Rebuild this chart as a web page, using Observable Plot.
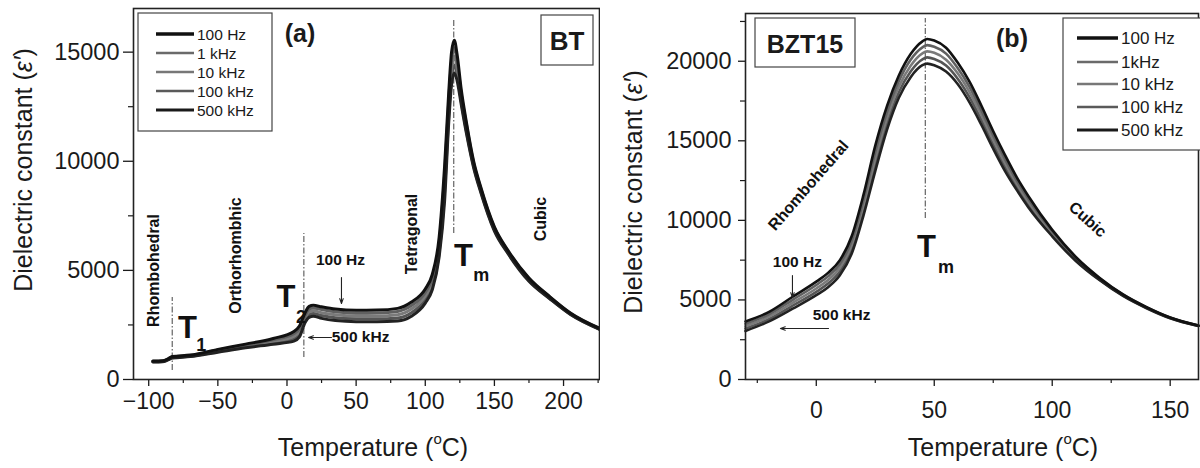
<!DOCTYPE html>
<html><head><meta charset="utf-8">
<script src="https://cdn.jsdelivr.net/npm/d3@7"></script>
<script src="https://cdn.jsdelivr.net/npm/@observablehq/plot@0.6"></script>
<style>
body{margin:0;background:#fff;}
#wrap{position:relative;width:1200px;height:468px;overflow:hidden;background:#fff;}
#wrap svg{position:absolute;top:0;}
</style></head><body><div id="wrap"></div>
<script>
const FONT = '"Liberation Sans", Arial, Helvetica, sans-serif';

// ---------- Panel (a): BT ----------
const freqsA = ["100 Hz", "1 kHz", "10 kHz", "100 kHz", "500 kHz"];
const tempBT = [-97,-90,-86,-83,-70,-50,-30,-10,5,9,13,16,19,25,35,50,65,80,90,100,105,110,114,117,119,121,123,126,130,135,140,150,160,175,190,205,226];
const bt100Hz = [850,860,950,1050,1120,1380,1620,1880,2200,2450,3050,3350,3400,3330,3230,3170,3180,3260,3550,4150,4800,6500,9800,13200,15000,15550,14900,13300,11700,10000,8850,7000,5900,4650,3800,3050,2350];
const bt1kHz = [840,850,940,1030,1100,1350,1580,1820,2100,2330,2920,3230,3280,3210,3100,3040,3050,3120,3390,3990,4620,6230,9400,12800,14600,15200,14600,13100,11600,9920,8790,6950,5860,4620,3780,3030,2340];
const bt10kHz = [825,835,925,1015,1085,1315,1535,1750,1980,2200,2830,3100,3150,3060,2970,2910,2910,2970,3230,3830,4450,6050,9000,12500,14250,14800,14300,12950,11450,9850,8720,6900,5820,4580,3750,3010,2320];
const bt100kHz = [810,820,910,995,1065,1280,1490,1680,1860,2070,2710,2970,3020,2930,2830,2780,2780,2820,3060,3660,4270,5800,8600,12150,13900,14400,14000,12750,11300,9770,8660,6850,5790,4540,3720,2990,2310];
const bt500kHz = [800,810,900,980,1050,1250,1450,1620,1760,1950,2600,2850,2900,2800,2700,2650,2650,2680,2900,3500,4100,5600,8200,11800,13500,14050,13700,12600,11200,9700,8600,6800,5750,4500,3700,2980,2300];
const xTicksA = [-100,-50,0,50,100,150,200];
const xMinorA = [-75,-25,25,75,125,175,225];
const yTicksA = [0,5000,10000,15000];
const yMinorA = [2500,7500,12500];

// ---------- Panel (b): BZT15 ----------
const freqsB = ["100 Hz", "1kHz", "10 kHz", "100 kHz", "500 kHz"];
const tempBZT = [-30,-20,-10,0,5,10,15,20,25,30,35,40,45,47,50,55,60,65,70,75,80,85,90,100,110,120,130,140,150,162];
const bzt100Hz = [3650,4250,5200,6150,6700,7500,9000,11600,14700,17200,19100,20450,21250,21400,21300,20850,19900,18700,17200,15600,14100,12700,11500,9400,7700,6400,5350,4550,3900,3400];
const bzt1kHz = [3500,4100,5010,5940,6480,7260,8720,11270,14300,16820,18750,20090,20870,21010,20910,20480,19560,18380,16900,15330,13850,12500,11330,9300,7640,6360,5330,4530,3890,3390];
const bzt10kHz = [3350,3950,4820,5720,6250,7020,8450,10950,13900,16450,18400,19720,20500,20620,20530,20100,19230,18050,16600,15050,13600,12300,11150,9200,7580,6330,5300,4520,3880,3380];
const bzt100kHz = [3200,3800,4640,5510,6030,6790,8170,10620,13500,16070,18050,19360,20120,20240,20140,19730,18890,17730,16300,14780,13350,12100,10980,9100,7510,6290,5280,4500,3860,3370];
const bzt500kHz = [3050,3650,4450,5300,5800,6550,7900,10300,13100,15700,17700,19000,19750,19850,19750,19350,18550,17400,16000,14500,13100,11900,10800,9000,7450,6250,5250,4480,3850,3360];
const xTicksB = [0,50,100,150];
const xMinorB = [-25,25,75,125];
const yTicksB = [0,5000,10000,15000,20000];
const yMinorB = [2500,7500,12500,17500,22500];

const lineColors = ["#111111", "#606060", "#7a7a7a", "#555555", "#222222"];
const legendColors = ["#111111", "#6a6a6a", "#777777", "#5a5a5a", "#1a1a1a"];
const legendWidths = [3.5, 2.5, 2.5, 2.5, 3];

function toRows(temps, series, names) {
  const rows = [];
  series.forEach((vals, i) => temps.forEach((t, j) => rows.push({t, v: vals[j], f: names[i]})));
  return rows;
}
const rowsA = toRows(tempBT, [bt100kHz, bt10kHz, bt1kHz, bt500kHz, bt100Hz], [freqsA[3], freqsA[2], freqsA[1], freqsA[4], freqsA[0]]);
const rowsB = toRows(tempBZT, [bzt100kHz, bzt10kHz, bzt1kHz, bzt500kHz, bzt100Hz], [freqsB[3], freqsB[2], freqsB[1], freqsB[4], freqsB[0]]);

const fmt = d => d < 0 ? "\u2212" + (-d) : String(d);

// annotations (data units)
const phaseA = [
  {x: -96.5, y: 4995, s: "Rhombohedral"},
  {x: -37.2, y: 5682, s: "Orthorhombhic"},
  {x: 90, y: 6667, s: "Tetragonal"},
  {x: 183.3, y: 7354, s: "Cubic"}
];
const freqLabA = [{x: 38.7, y: 5453, s: "100 Hz"}, {x: 53.2, y: 1924, s: "500 kHz"}];
const arrowsA = [{x1: 39.4, y1: 4674, x2: 39.4, y2: 3482}, {x1: 32.2, y1: 1924, x2: 15.6, y2: 1924}];
const dashA = [{x: -83, y1: 410, y2: 3760}, {x: 12.2, y1: 1010, y2: 6690}, {x: 120.6, y1: 6690, y2: 16450}];
const bigTA = [{x: -71.9, y: 2337}, {x: -0.7, y: 3780}, {x: 127.6, y: 5636}];
const subA = [{x: -62.0, y: 1580, s: "1"}, {x: 10.2, y: 2860, s: "2"}, {x: 140.5, y: 4780, s: "m"}];

const phaseB = [
  {x: -3.3, y: 12191, s: "Rhombohedral", r: -49},
  {x: 115.0, y: 10055, s: "Cubic", r: 42}
];
const freqLabB = [{x: -8.0, y: 7352, s: "100 Hz"}, {x: 10.7, y: 4022, s: "500 kHz"}];
const arrowsB = [{x1: -10.1, y1: 6536, x2: -10.1, y2: 5153}, {x1: 5.2, y1: 3205, x2: -15.2, y2: 3205}];
const dashB = [{x: 46.2, y1: 10118, y2: 22686}];
const bigTB = [{x: 46.7, y: 8295}];
const subB = [{x: 55.0, y: 7050, s: "m"}];

function panel(o) {
  return Plot.plot({
    width: 600, height: 468,
    marginLeft: o.ml, marginRight: o.mr, marginTop: o.mt, marginBottom: o.mb,
    x: {domain: o.xd}, y: {domain: o.yd},
    color: {domain: o.names, range: lineColors},
    style: {fontFamily: FONT, background: "white", color: "#1a1a1a", overflow: "hidden"},
    marks: [
      Plot.axisY(o.yt, {anchor: "left", tickSize: o.yts, tickPadding: o.ytp, fontSize: 23.5, tickFormat: fmt, label: null, strokeWidth: 1.3}),
      Plot.axisY(o.ym, {anchor: "left", tickSize: 5, tickFormat: () => "", label: null, strokeWidth: 1.2}),
      Plot.axisX(o.xt, {anchor: "bottom", tickSize: 7, tickPadding: o.xtp, fontSize: 23, tickFormat: fmt, label: null, strokeWidth: 1.3}),
      Plot.axisX(o.xm, {anchor: "bottom", tickSize: 4, tickFormat: () => "", label: null, strokeWidth: 1.2}),
      Plot.ruleX(o.dash, {x: "x", y1: "y1", y2: "y2", stroke: "#555", strokeWidth: 1.1, strokeDasharray: "6,2,1.5,2"}),
      Plot.line(o.rows, {x: "t", y: "v", z: "f", stroke: "f", strokeWidth: o.sw, curve: "monotone-x"}),
      Plot.frame({stroke: "#222", strokeWidth: 1.6}),
      Plot.text(o.phase, {x: "x", y: "y", text: "s", rotate: o.phaseRot, fontSize: 16, fontWeight: "bold", fill: "#111"}),
      Plot.text(o.freqLab, {x: "x", y: "y", text: "s", fontSize: 15.5, fontWeight: "bold", fill: "#111"}),
      Plot.arrow(o.arrows, {x1: "x1", y1: "y1", x2: "x2", y2: "y2", stroke: "#222", strokeWidth: 1.1, headLength: 7, headAngle: 40}),
      Plot.text(o.bigT, {x: "x", y: "y", text: () => "T", fontSize: 31, fontWeight: "bold", fill: "#111"}),
      Plot.text(o.sub, {x: "x", y: "y", text: "s", fontSize: 18, fontWeight: "bold", fill: "#111"})
    ]
  });
}

const svgA = panel({
  ml: 133, mr: 1, mt: 8, mb: 89, xd: [-111, 226], yd: [0, 17000], names: [freqsA[0], freqsA[1], freqsA[2], freqsA[3], freqsA[4]],
  yt: yTicksA, ym: yMinorA, xt: xTicksA, xm: xMinorA, yts: 10, ytp: 4, xtp: 6, sw: 3,
  rows: rowsA, dash: dashA, phase: phaseA, phaseRot: -90, freqLab: freqLabA, arrows: arrowsA, bigT: bigTA, sub: subA
});
const svgB = panel({
  ml: 145, mr: 2, mt: 13, mb: 89, xd: [-30, 162], yd: [0, 23000], names: [freqsB[0], freqsB[1], freqsB[2], freqsB[3], freqsB[4]],
  yt: yTicksB, ym: yMinorB, xt: xTicksB, xm: xMinorB, yts: 7, ytp: 7, xtp: 15, sw: 2.6,
  rows: rowsB, dash: dashB, phase: phaseB, phaseRot: "r", freqLab: freqLabB, arrows: arrowsB, bigT: bigTB, sub: subB
});

const wrap = document.getElementById("wrap");
svgA.style.left = "0px";
svgB.style.left = "600px";
wrap.appendChild(svgA);
wrap.appendChild(svgB);

function decorate(svg, o) {
  const g = d3.select(svg).append("g").attr("font-family", FONT).attr("fill", "#1a1a1a").attr("text-anchor", "start");
  // y title
  const yt = g.append("text").attr("transform", `translate(${o.ytx},${o.yty}) rotate(-90)`)
    .attr("text-anchor", "middle").attr("dominant-baseline", "central").attr("font-size", 25);
  yt.append("tspan").text("Dielectric constant (");
  yt.append("tspan").attr("font-style", "italic").text("\u03B5\u2032");
  yt.append("tspan").text(")");
  // x title
  const xt = g.append("text").attr("x", o.xtx).attr("y", o.xty)
    .attr("text-anchor", "middle").attr("dominant-baseline", "central").attr("font-size", 25);
  xt.append("tspan").text("Temperature (");
  xt.append("tspan").attr("font-size", 15).attr("dy", -9).text("o");
  xt.append("tspan").attr("dy", 9).text("C)");
  // sample box
  g.append("rect").attr("x", o.bx).attr("y", o.by).attr("width", o.bw).attr("height", o.bh)
    .attr("fill", "white").attr("stroke", "#444").attr("stroke-width", 1.2);
  g.append("text").attr("x", o.bx + o.bw / 2).attr("y", o.by + o.bh / 2 + 1).attr("text-anchor", "middle")
    .attr("dominant-baseline", "central").attr("font-size", o.bfs).attr("font-weight", "bold").text(o.btext);
  // panel letter
  g.append("text").attr("x", o.px).attr("y", o.py).attr("text-anchor", "middle").attr("dominant-baseline", "central")
    .attr("font-size", 25).attr("font-weight", "bold").text(o.ptext);
  // legend
  g.append("rect").attr("x", o.lx).attr("y", o.ly).attr("width", o.lw).attr("height", o.lh)
    .attr("fill", "white").attr("stroke", "#444").attr("stroke-width", 1.2);
  o.names.forEach((n, i) => {
    g.append("line").attr("x1", o.l1).attr("x2", o.l2).attr("y1", o.lys[i]).attr("y2", o.lys[i])
      .attr("stroke", legendColors[i]).attr("stroke-width", legendWidths[i]);
    g.append("text").attr("x", o.ltx).attr("y", o.lys[i]).attr("text-anchor", "start").attr("dominant-baseline", "central")
      .attr("font-size", o.lfs).text(n);
  });
}

decorate(svgA, {
  ytx: 23, yty: 170, xtx: 373, xty: 447,
  bx: 541, by: 15, bw: 52, bh: 50, bfs: 26, btext: "BT",
  px: 300, py: 33, ptext: "(a)",
  lx: 138, ly: 13, lw: 134, lh: 118, l1: 156, l2: 194, ltx: 197, lys: [34, 53, 72, 91, 110], lfs: 15.5,
  names: freqsA
});
decorate(svgB, {
  ytx: 33, yty: 192, xtx: 403, xty: 447,
  bx: 155, by: 18, bw: 100, bh: 49, bfs: 25, btext: "BZT15",
  px: 412, py: 38, ptext: "(b)",
  lx: 463, ly: 18, lw: 140, lh: 132, l1: 477, l2: 518, ltx: 521, lys: [38, 62, 84, 107, 130], lfs: 17,
  names: freqsB
});
</script></body></html>
